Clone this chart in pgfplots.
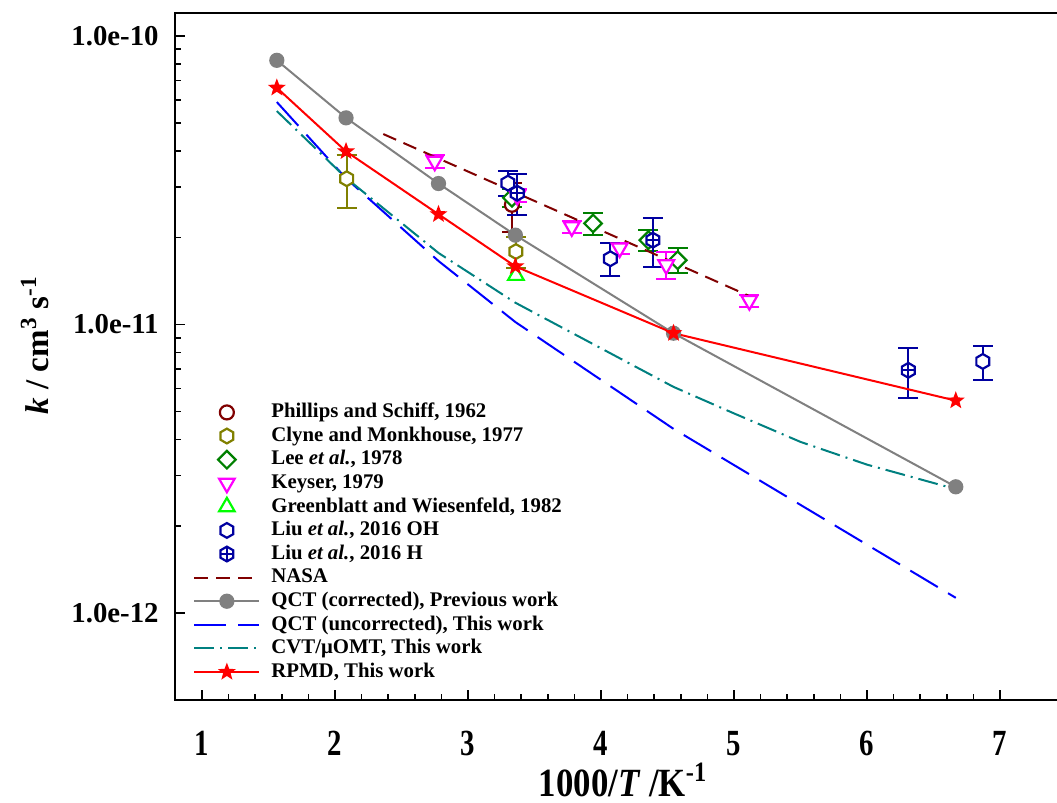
\documentclass[border=0pt]{standalone}
\usepackage{fontspec}
\setmainfont{Liberation Serif}
\usepackage{graphicx}
\usepackage{pgfplots}
\pgfplotsset{compat=1.18}
\usetikzlibrary{plotmarks}

\definecolor{pdarkred}{RGB}{128,0,0}
\definecolor{polive}{RGB}{128,128,0}
\definecolor{pgreen}{RGB}{0,128,0}
\definecolor{pmagenta}{RGB}{255,0,255}
\definecolor{plime}{RGB}{0,255,0}
\definecolor{pnavy}{RGB}{0,0,160}
\definecolor{pgray}{RGB}{128,128,128}
\definecolor{pblue}{RGB}{0,0,255}
\definecolor{pteal}{RGB}{0,128,128}
\definecolor{pred}{RGB}{255,0,0}

\newcommand{\xs}[1]{\scalebox{1}[1.28]{#1}}

\pgfdeclareplotmark{hexa}{%
  \pgfpathmoveto{\pgfpointpolar{90}{\pgfplotmarksize}}%
  \pgfpathlineto{\pgfpointpolar{150}{\pgfplotmarksize}}%
  \pgfpathlineto{\pgfpointpolar{210}{\pgfplotmarksize}}%
  \pgfpathlineto{\pgfpointpolar{270}{\pgfplotmarksize}}%
  \pgfpathlineto{\pgfpointpolar{330}{\pgfplotmarksize}}%
  \pgfpathlineto{\pgfpointpolar{30}{\pgfplotmarksize}}%
  \pgfpathclose
  \pgfusepathqfillstroke}
\pgfdeclareplotmark{hexaplus}{%
  \pgfpathmoveto{\pgfpointpolar{90}{\pgfplotmarksize}}%
  \pgfpathlineto{\pgfpointpolar{150}{\pgfplotmarksize}}%
  \pgfpathlineto{\pgfpointpolar{210}{\pgfplotmarksize}}%
  \pgfpathlineto{\pgfpointpolar{270}{\pgfplotmarksize}}%
  \pgfpathlineto{\pgfpointpolar{330}{\pgfplotmarksize}}%
  \pgfpathlineto{\pgfpointpolar{30}{\pgfplotmarksize}}%
  \pgfpathclose
  \pgfusepathqfillstroke
  \pgfpathmoveto{\pgfpointpolar{90}{\pgfplotmarksize}}%
  \pgfpathlineto{\pgfpointpolar{270}{\pgfplotmarksize}}%
  \pgfpathmoveto{\pgfpointpolar{180}{0.866\pgfplotmarksize}}%
  \pgfpathlineto{\pgfpointpolar{0}{0.866\pgfplotmarksize}}%
  \pgfusepathqstroke}
\pgfdeclareplotmark{dia}{%
  \pgfpathmoveto{\pgfpointpolar{0}{\pgfplotmarksize}}%
  \pgfpathlineto{\pgfpointpolar{90}{\pgfplotmarksize}}%
  \pgfpathlineto{\pgfpointpolar{180}{\pgfplotmarksize}}%
  \pgfpathlineto{\pgfpointpolar{270}{\pgfplotmarksize}}%
  \pgfpathclose
  \pgfusepathqfillstroke}
\pgfdeclareplotmark{fstar}{%
  \pgfpathmoveto{\pgfpointpolar{90}{\pgfplotmarksize}}%
  \pgfpathlineto{\pgfpointpolar{126}{0.42\pgfplotmarksize}}%
  \pgfpathlineto{\pgfpointpolar{162}{\pgfplotmarksize}}%
  \pgfpathlineto{\pgfpointpolar{198}{0.42\pgfplotmarksize}}%
  \pgfpathlineto{\pgfpointpolar{234}{\pgfplotmarksize}}%
  \pgfpathlineto{\pgfpointpolar{270}{0.42\pgfplotmarksize}}%
  \pgfpathlineto{\pgfpointpolar{306}{\pgfplotmarksize}}%
  \pgfpathlineto{\pgfpointpolar{342}{0.42\pgfplotmarksize}}%
  \pgfpathlineto{\pgfpointpolar{18}{\pgfplotmarksize}}%
  \pgfpathlineto{\pgfpointpolar{54}{0.42\pgfplotmarksize}}%
  \pgfpathclose
  \pgfusepathqfill}

\begin{document}
\begin{tikzpicture}
\useasboundingbox (-87.5pt,-51.5pt) rectangle (441pt,350pt);
\begin{axis}[
  at={(0pt,0pt)}, anchor=south west,
  scale only axis, width=445pt, height=343.5pt,
  xmin=0.797, xmax=7.488,
  ymode=log, ymin=5e-13, ymax=1.2e-10,
  xtick={1,2,3,4,5,6,7},
  xticklabels={\xs{1},\xs{2},\xs{3},\xs{4},\xs{5},\xs{6},\xs{7}},
  minor x tick num=4,
  ytick={1e-12,1e-11,1e-10},
  yticklabels={1.0e-12,1.0e-11,1.0e-10},
  tick pos=left, tick align=inside,
  major tick length=5pt, minor tick length=3pt,
  tick style={black, line width=0.8pt},
  axis line style={line width=1pt},
  every tick label/.append style={font=\bfseries\fontsize{14.4}{15}\selectfont},
  yticklabel style={anchor=east, inner sep=0pt, xshift=-8pt},
  xticklabel style={anchor=north, inner sep=0pt, yshift=-15.5pt},
  xlabel={\scalebox{1}[1.15]{1000/\textit{T} /K\textsuperscript{-1}}},
  xlabel style={font=\bfseries\fontsize{17.4}{18}\selectfont, at={(axis description cs:0.5034,0)}, anchor=center, inner sep=0pt, yshift=-40pt},
  ylabel={\textit{k} / cm\textsuperscript{3} s\textsuperscript{-1}},
  ylabel style={font=\bfseries\fontsize{16.5}{17}\selectfont, at={(axis description cs:-0.1573,0.5167)}, anchor=center},
  legend image code/.code={%
    \path (0pt,0pt) (37pt,0pt);
    \draw[mark repeat=2,mark phase=2,#1] plot coordinates {(0pt,0pt) (16.25pt,0pt) (32.5pt,0pt)};},
  legend cell align=left,
  legend style={draw=none, fill=none, inner sep=0pt, row sep=0pt,
    at={(axis description cs:0.0202,0.4364)}, anchor=north west,
    font=\bfseries\fontsize{10.4}{12}\selectfont,
    nodes={inner sep=1pt, text height=7.5pt, text depth=2.3pt},
    cells={anchor=west}},
  error bars/error bar style={line width=1pt},
]
% Phillips and Schiff 1962
\addplot[only marks, color=pdarkred, mark=*, mark size=3.5pt, mark options={fill=white, line width=1.1pt},
  error bars/.cd, y dir=both, y explicit, error mark options={rotate=90, mark size=5pt, line width=1pt, pdarkred}]
  coordinates {(3.33,2.60e-11) +- (0,0.5e-11)};
\addlegendentry{Phillips and Schiff, 1962}
% Clyne and Monkhouse 1977
\addplot[only marks, color=polive, mark=hexa, mark size=3.7pt, mark options={fill=white, line width=1.1pt},
  error bars/.cd, y dir=both, y explicit, error mark options={rotate=90, mark size=5pt, line width=1pt, polive}]
  coordinates {(2.088,3.20e-11) +- (0,0.66e-11) (3.36,1.79e-11) +- (0,0.22e-11)};
\addlegendentry{Clyne and Monkhouse, 1977}
% Lee et al. 1978
\addplot[only marks, color=pgreen, mark=dia, mark size=4.4pt, mark options={fill=white, line width=1.1pt},
  error bars/.cd, y dir=both, y explicit, error mark options={rotate=90, mark size=5pt, line width=1pt, pgreen}]
  coordinates {(3.33,2.75e-11) +- (0,0.2e-11) (3.94,2.24e-11) +- (0,0.19e-11) (4.356,1.96e-11) +- (0,0.16e-11) (4.576,1.67e-11) +- (0,0.165e-11)};
\addlegendentry{Lee \textit{et al.}, 1978}
% Keyser 1979
\addplot[only marks, color=pmagenta, mark=triangle*, mark size=4.5pt, mark options={rotate=180, fill=white, line width=1.1pt},
  error bars/.cd, y dir=both, y explicit, error mark options={rotate=90, mark size=5pt, line width=1pt, pmagenta}]
  coordinates {(2.75,3.68e-11) +- (0,0.18e-11) (3.37,2.80e-11) +- (0,0.15e-11) (3.78,2.18e-11) +- (0,0.11e-11) (4.14,1.84e-11) +- (0,0.08e-11) (4.49,1.61e-11) +- (0,0.17e-11) (5.115,1.21e-11) +- (0,0.06e-11)};
\addlegendentry{Keyser, 1979}
% Greenblatt and Wiesenfeld 1982
\addplot[only marks, color=plime, mark=triangle*, mark size=4.5pt, mark options={fill=white, line width=1.1pt}]
  coordinates {(3.36,1.48e-11)};
\addlegendentry{Greenblatt and Wiesenfeld, 1982}
% Liu et al. 2016 OH
\addplot[only marks, color=pnavy, mark=hexa, mark size=3.7pt, mark options={fill=white, line width=1.1pt},
  error bars/.cd, y dir=both, y explicit, error mark options={rotate=90, mark size=5pt, line width=1pt, pnavy}]
  coordinates {(3.30,3.09e-11) +- (0,0.31e-11) (4.07,1.69e-11) +- (0,0.22e-11) (6.87,7.45e-12) +- (0,1.0e-12)};
\addlegendentry{Liu \textit{et al.}, 2016 OH}
% Liu et al. 2016 H
\addplot[only marks, color=pnavy, mark=hexaplus, mark size=3.7pt, mark options={fill=white, line width=1.1pt},
  error bars/.cd, y dir=both, y explicit, error mark options={rotate=90, mark size=5pt, line width=1pt, pnavy}]
  coordinates {(3.37,2.85e-11) +- (0,0.46e-11) (4.39,1.96e-11) +- (0,0.375e-11) (6.31,6.94e-12) +- (0,1.37e-12)};
\addlegendentry{Liu \textit{et al.}, 2016 H}
% NASA
\addplot[color=pdarkred, line width=1pt, dash pattern=on 7pt off 4pt, no marks]
  coordinates {(2.363,4.57e-11) (5.107,1.26e-11)};
\addlegendentry{NASA}
% QCT corrected
\addplot[color=pgray, line width=1pt, mark=*, mark size=3.3pt, mark options={solid, fill=pgray}]
  coordinates {(1.5625,8.23e-11) (2.083,5.20e-11) (2.778,3.08e-11) (3.356,2.04e-11) (4.545,9.33e-12) (6.667,2.74e-12)};
\addlegendentry{QCT (corrected), Previous work}
% QCT uncorrected
\addplot[color=pblue, line width=1pt, dash pattern=on 16pt off 6pt, no marks]
  coordinates {(1.5625,5.90e-11) (2.083,3.21e-11) (2.778,1.66e-11) (3.356,1.02e-11) (4.545,4.35e-12) (6.667,1.13e-12)};
\addlegendentry{QCT (uncorrected), This work}
% CVT/muOMT
\addplot[color=pteal, line width=1pt, dash pattern=on 10pt off 3pt on 1pt off 3pt, no marks]
  coordinates {(1.5625,5.49e-11) (2.083,3.22e-11) (2.778,1.77e-11) (3.356,1.19e-11) (4.545,6.08e-12) (5.0,4.92e-12) (5.5,3.92e-12) (6.0,3.27e-12) (6.667,2.69e-12)};
\addlegendentry{CVT/μOMT, This work}
% RPMD
\addplot[color=pred, line width=1pt, mark=fstar, mark size=4.7pt, mark options={solid, fill=pred}]
  coordinates {(1.5625,6.61e-11) (2.083,3.98e-11) (2.778,2.41e-11) (3.356,1.59e-11) (4.545,9.33e-12) (6.667,5.45e-12)};
\addlegendentry{RPMD, This work}
\end{axis}
\end{tikzpicture}
\end{document}
